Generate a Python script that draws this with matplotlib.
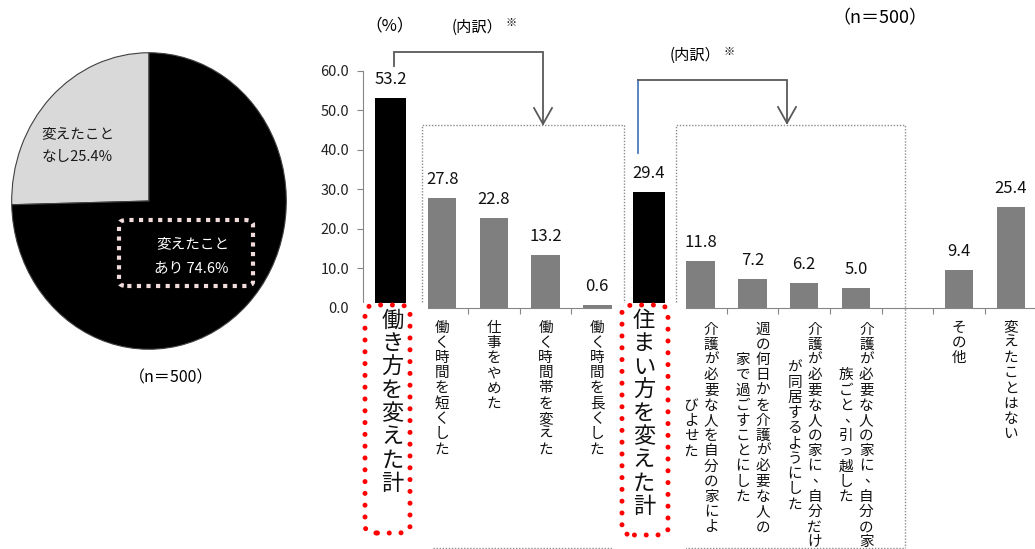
import numpy as np
import matplotlib
matplotlib.use('Agg')
import matplotlib.pyplot as plt
from matplotlib.patches import Rectangle, FancyBboxPatch
from matplotlib.lines import Line2D
from matplotlib import transforms

plt.rcParams['font.family'] = ['Noto Sans CJK JP', 'DejaVu Sans']

# 円グラフ: 変えたことなし / あり
pie_labels = ['変えたこと\nなし25.4%', '変えたこと\nあり 74.6%']
pie_values = [25.4, 74.6]
pie_colors = ['#d9d9d9', '#000000']

# 棒グラフ (%)  ※index 10 は空欄
bar_values = [53.2, 27.8, 22.8, 13.2, 0.6, 29.4, 11.8, 7.2, 6.2, 5.0, np.nan, 9.4, 25.4]
is_total = [True, False, False, False, False, True, False, False, False, False, False, False, False]
# 縦書きラベル (複数列は "\n" 区切り、右の列から)
bar_labels = [
    '働き方を変えた計',
    '働く時間を短くした',
    '仕事をやめた',
    '働く時間帯を変えた',
    '働く時間を長くした',
    '住まい方を変えた計',
    '介護が必要な人を自分の家によ\nびよせた',
    '週の何日かを介護が必要な人の\n家で過ごすことにした',
    '介護が必要な人の家に、自分だけ\nが同居するようにした',
    '介護が必要な人の家に、自分の家\n族ごと、引っ越した',
    '',
    'その他',
    '変えたことはない',
]
yticks = [0, 10, 20, 30, 40, 50, 60]

W, H = 1035, 549
fig = plt.figure(figsize=(W / 100, H / 100), dpi=100)


def fx(x):
    return x / W


def fy(y):
    return 1 - y / H


# ---- 円グラフ
ax_pie = fig.add_axes([fx(11), fy(350), 276 / W, 298 / H])
ax_pie.pie(pie_values, colors=pie_colors, startangle=90, counterclock=True,
           wedgeprops=dict(edgecolor='#404040', linewidth=0.8))
ax_pie.set_aspect('auto')
ax_pie.set_xlim(-1.005, 1.005)
ax_pie.set_ylim(-1.005, 1.005)
ax_pie.axis('off')

l1 = pie_labels[0].split('\n')
fig.text(fx(77.5), fy(134), l1[0], ha='center', va='center', fontsize=10.5, color='#1a1a1a')
fig.text(fx(77.5), fy(157), l1[1], ha='center', va='center', fontsize=10.5, color='#1a1a1a')
l2 = pie_labels[1].split('\n')
fig.text(fx(192.5), fy(244), l2[0], ha='center', va='center', fontsize=10.5, color='white')
fig.text(fx(191), fy(268), l2[1], ha='center', va='center', fontsize=10.5, color='white')

pink = FancyBboxPatch((fx(119), fy(286)), fx(134), 66 / H,
                      boxstyle='round,pad=0,rounding_size=0.008',
                      transform=fig.transFigure, facecolor='none', edgecolor='#f2dcdb',
                      linewidth=3, linestyle=(0, (1, 1.3)), zorder=2)
fig.add_artist(pink)
fig.text(fx(171.5), fy(378), '（n＝500）', ha='center', va='center', fontsize=11.5)

# ---- 棒グラフ
x0_px, y0_px, ytop_px = 363, 307.5, 71
unit = 51.7
ax = fig.add_axes([fx(x0_px), fy(y0_px), (W - x0_px) / W, (y0_px - ytop_px) / H])
ax.patch.set_visible(False)
for i, v in enumerate(bar_values):
    if np.isnan(v):
        continue
    ax.bar(i, v, width=0.6 if is_total[i] else 0.55,
           color='#000000' if is_total[i] else '#7f7f7f', zorder=2)
    ax.annotate(f'{v:.1f}', (i, v), xytext=(0, 13.3), textcoords='offset points',
                ha='center', va='center', fontsize=12, color='#111111')

ax.set_xlim(-(390.5 - x0_px) / unit, (W - 390.5) / unit)
ax.set_ylim(0, 60)
ax.set_yticks(yticks)
ax.set_yticklabels([f'{t:.1f}' for t in yticks], fontsize=10.5, color='#222222')
ax.set_xticks(np.arange(0.5, len(bar_values) - 1, 1))
ax.set_xticklabels([])
ax.tick_params(axis='both', direction='out', length=4, color='#868686', width=0.8)
ax.tick_params(axis='y', pad=6)
for s in ['top', 'right']:
    ax.spines[s].set_visible(False)
for s in ['left', 'bottom']:
    ax.spines[s].set_color('#868686')
    ax.spines[s].set_linewidth(0.8)

# 縦書きラベル
vtrans = transforms.blended_transform_factory(ax.transData, fig.transFigure)


def vlabel(xd, text, top, pitch, size, offsets):
    cols = text.split('\n')
    n_max = max(len(c) for c in cols)
    mid = top + n_max * pitch / 2
    for col, dx in zip(cols, offsets):
        start = mid - len(col) * pitch / 2
        for k, ch in enumerate(col):
            cy = start + (k + 0.5) * pitch
            cx = xd + dx / unit
            if ch in '、。':
                # 縦書きの句読点は右上へ
                cx += 0.35 * pitch / unit
                cy -= 0.2 * pitch
            ax.text(cx, fy(cy), ch, transform=vtrans, ha='center', va='center',
                    fontsize=size, color='#111111', zorder=4)


for i, lab in enumerate(bar_labels):
    if not lab or is_total[i]:
        continue
    if '\n' in lab:
        vlabel(i, lab, 322, 15.2, 10.5, (10.5, -9.5))
    else:
        vlabel(i, lab, 320, 15.2, 10.5, (0,))


# 灰色の点線枠 (内訳)
def dotted(xs_px, ys_px, z=0.8):
    fig.add_artist(Line2D([fx(x) for x in xs_px], [fy(y) for y in ys_px],
                          transform=fig.transFigure, color='#8c8c8c', linewidth=1.0,
                          linestyle=(0, (1, 1.2)), zorder=z))


dotted([422, 422, 624, 624], [305, 125, 125, 305])
dotted([433, 613], [548, 548])
dotted([676, 676, 905, 905], [305, 125, 125, 548])
dotted([685, 905], [548, 548])

# 合計ラベルの白地 + 赤い点線枠
for i, (cx, bx0, bx1, by1) in zip([0, 5], [(392.5, 365, 410, 533), (644, 622, 668, 535)]):
    bar_px = 390.5 + i * unit
    fig.add_artist(Rectangle((fx(bar_px - 37), fy(549)), 74 / W, (549 - 303) / H,
                             transform=fig.transFigure, facecolor='white',
                             edgecolor='none', zorder=1))
    fig.add_artist(FancyBboxPatch((fx(bx0), fy(by1)), (bx1 - bx0) / W, (by1 - 305) / H,
                                  boxstyle='round,pad=0,rounding_size=0.012',
                                  transform=fig.transFigure, facecolor='none',
                                  edgecolor='#ff0000', linewidth=3.6,
                                  linestyle=(0, (0.01, 2.35)), capstyle='round',
                                  zorder=1.5))
    for k, ch in enumerate(bar_labels[i]):
        fig.text(fx(cx), fy(309 + (k + 0.5) * 23.2), ch, ha='center', va='center',
                 fontsize=16, color='#111111', zorder=3)


# 内訳への矢印
def bracket(pts, color='#595959'):
    fig.add_artist(Line2D([fx(p[0]) for p in pts], [fy(p[1]) for p in pts],
                          transform=fig.transFigure, color=color, linewidth=1.3,
                          zorder=2, solid_joinstyle='miter'))


bracket([(394, 66), (394, 52), (543, 52), (543, 124)])
bracket([(534, 108), (543, 124), (552, 108)])
bracket([(638, 153), (638, 80)], color='#4a7ebb')
bracket([(638, 80), (787, 80), (787, 123)])
bracket([(778, 107), (787, 123), (796, 107)])

fig.text(fx(477), fy(27), '(内訳）', ha='center', va='center', fontsize=11)
fig.text(fx(511), fy(23), '※', ha='center', va='center', fontsize=8)
fig.text(fx(695), fy(55), '(内訳）', ha='center', va='center', fontsize=11)
fig.text(fx(729), fy(52), '※', ha='center', va='center', fontsize=8)
fig.text(fx(390), fy(26), '（%）', ha='center', va='center', fontsize=12)
fig.text(fx(880), fy(18), '（n＝500）', ha='center', va='center', fontsize=13)

fig.savefig('out.png', dpi=100)
